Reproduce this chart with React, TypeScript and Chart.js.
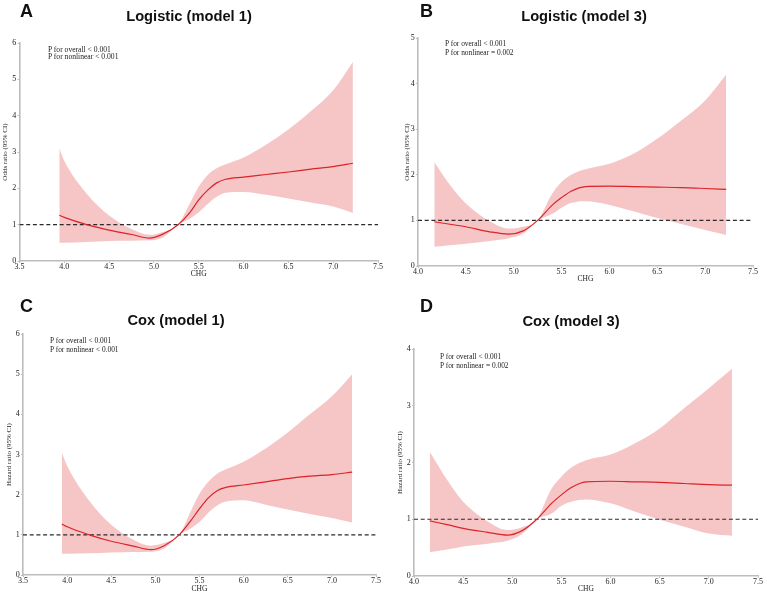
import React, { useEffect, useRef } from "react";
import { Chart, registerables } from "chart.js";
Chart.register(...registerables);

// ---------- Data ----------
// Panel A: Logistic (model 1)
const aX = [3.944, 4.0, 4.25, 4.5, 4.75, 4.95, 5.1, 5.27, 5.4, 5.5, 5.6, 5.7, 5.8, 6.0, 6.25, 6.5, 6.75, 7.0, 7.22];
const aMid = [1.26, 1.2, 1.0, 0.85, 0.73, 0.63, 0.74, 1.0, 1.33, 1.68, 1.95, 2.15, 2.25, 2.31, 2.38, 2.45, 2.53, 2.6, 2.69];
const aUp = [3.1, 2.75, 1.85, 1.25, 0.88, 0.72, 0.8, 1.0, 1.58, 2.05, 2.37, 2.55, 2.66, 2.85, 3.2, 3.62, 4.12, 4.7, 5.48];
const aLo = [0.5, 0.5, 0.52, 0.55, 0.56, 0.57, 0.65, 1.0, 1.16, 1.34, 1.57, 1.77, 1.88, 1.9, 1.82, 1.72, 1.61, 1.5, 1.32];

// Panel B: Logistic (model 3)
const bX = [4.17, 4.35, 4.5, 4.75, 4.95, 5.1, 5.25, 5.4, 5.5, 5.6, 5.75, 6.0, 6.25, 6.5, 6.75, 7.0, 7.22];
const bMid = [0.97, 0.91, 0.86, 0.75, 0.7, 0.77, 1.0, 1.33, 1.5, 1.64, 1.74, 1.75, 1.74, 1.73, 1.72, 1.7, 1.68];
const bUp = [2.28, 1.73, 1.37, 0.98, 0.82, 0.86, 1.0, 1.58, 1.84, 2.0, 2.12, 2.24, 2.46, 2.79, 3.19, 3.63, 4.2];
const bLo = [0.42, 0.46, 0.49, 0.55, 0.61, 0.71, 1.0, 1.14, 1.28, 1.38, 1.42, 1.34, 1.2, 1.05, 0.92, 0.79, 0.68];

// Panel C: Cox (model 1)
const cX = [3.94, 4.0, 4.25, 4.5, 4.75, 4.95, 5.1, 5.27, 5.4, 5.5, 5.6, 5.7, 5.8, 6.0, 6.25, 6.5, 6.75, 7.0, 7.23];
const cMid = [1.27, 1.2, 1.0, 0.84, 0.72, 0.63, 0.73, 1.0, 1.35, 1.65, 1.92, 2.1, 2.18, 2.24, 2.32, 2.4, 2.46, 2.5, 2.56];
const cUp = [3.05, 2.72, 1.85, 1.25, 0.88, 0.73, 0.8, 1.0, 1.58, 2.02, 2.32, 2.52, 2.63, 2.82, 3.15, 3.55, 4.0, 4.45, 5.0];
const cLo = [0.53, 0.53, 0.54, 0.56, 0.57, 0.58, 0.66, 1.0, 1.16, 1.32, 1.55, 1.73, 1.83, 1.86, 1.75, 1.63, 1.52, 1.42, 1.31];

// Panel D: Cox (model 3)
const dX = [4.16, 4.35, 4.5, 4.75, 4.95, 5.1, 5.25, 5.4, 5.5, 5.6, 5.75, 6.0, 6.25, 6.5, 6.75, 7.0, 7.235];
const dMid = [0.97, 0.9, 0.84, 0.77, 0.72, 0.8, 1.0, 1.28, 1.43, 1.56, 1.66, 1.67, 1.66, 1.65, 1.63, 1.61, 1.6];
const dUp = [2.19, 1.66, 1.31, 0.96, 0.81, 0.86, 1.0, 1.54, 1.75, 1.91, 2.04, 2.14, 2.34, 2.6, 2.96, 3.31, 3.65];
const dLo = [0.42, 0.47, 0.52, 0.57, 0.62, 0.74, 1.0, 1.1, 1.24, 1.31, 1.35, 1.28, 1.13, 0.99, 0.87, 0.75, 0.71];

const titles = ["Logistic (model 1)", "Logistic (model 3)", "Cox (model 1)", "Cox (model 3)"];
const letters = ["A", "B", "C", "D"];
const yTitles = ["Odds ratio (95% CI)", "Odds ratio (95% CI)", "Hazard ratio (95% CI)", "Hazard ratio (95% CI)"];
const xTitle = "CHG";
const pOverall = ["P for overall < 0.001", "P for overall < 0.001", "P for overall < 0.001", "P for overall < 0.001"];
const pNonlinear = ["P for nonlinear < 0.001", "P for nonlinear = 0.002", "P for nonlinear < 0.001", "P for nonlinear = 0.002"];
const xMins = [3.5, 4.0, 3.5, 4.0];
const xMaxs = [7.5, 7.5, 7.5, 7.5];
const yMaxs = [6, 5, 6, 4];
const refValue = 1;

const seriesX = [aX, bX, cX, dX];
const seriesMid = [aMid, bMid, cMid, dMid];
const seriesUp = [aUp, bUp, cUp, dUp];
const seriesLo = [aLo, bLo, cLo, dLo];

// ---------- Layout ----------
type Layout = {
  left: number; top: number; w: number; h: number;
  areaTop: number; areaRight: number; yw: number; xh: number;
  xtPad: number; ytPad: number;
  letterX: number; letterY: number; titleX: number; titleY: number;
  pX: number; pY: number; pGap: number; pSize: number;
};

const layouts: Layout[] = [
  { left: 0, top: 0, w: 385, h: 295, areaTop: 43, areaRight: 7, yw: 19.5, xh: 34, xtPad: 16, ytPad: 1.3,
    letterX: 20, letterY: 11, titleX: 189, titleY: 16, pX: 48, pY: 50.7, pGap: 6.7, pSize: 7.6 },
  { left: 385, top: 0, w: 382, h: 295, areaTop: 38, areaRight: 14, yw: 33, xh: 29, xtPad: 11, ytPad: 17.6,
    letterX: 35, letterY: 11, titleX: 199, titleY: 16, pX: 60, pY: 43.3, pGap: 9, pSize: 7.4 },
  { left: 0, top: 295, w: 385, h: 301, areaTop: 39, areaRight: 9, yw: 23, xh: 21, xtPad: 2.5, ytPad: 5.4,
    letterX: 20, letterY: 10.5, titleX: 176, titleY: 25, pX: 50, pY: 45.3, pGap: 9, pSize: 7.4 },
  { left: 385, top: 295, w: 382, h: 301, areaTop: 54, areaRight: 9, yw: 29, xh: 20, xtPad: 2.5, ytPad: 11,
    letterX: 35, letterY: 11, titleX: 186, titleY: 26, pX: 55, pY: 61, pGap: 9, pSize: 7.4 },
];

const serif = "'Liberation Serif', 'Times New Roman', serif";
const sans = "'Liberation Sans', Arial, sans-serif";
const axisColor = "#bdbdbd";
const textColor = "#222222";

function Panel({ i }: { i: number }) {
  const ref = useRef<HTMLCanvasElement>(null);
  const L = layouts[i];
  useEffect(() => {
    const xs = seriesX[i];
    const pts = (ys: number[]) => xs.map((x, k) => ({ x, y: ys[k] }));
    const chart = new Chart(ref.current as HTMLCanvasElement, {
      type: "line",
      data: {
        datasets: [
          {
            data: pts(seriesMid[i]),
            borderColor: "#dc2328",
            borderWidth: 1.2,
            pointRadius: 0,
            fill: false,
            cubicInterpolationMode: "monotone",
            order: 0,
          },
          {
            data: [{ x: xMins[i], y: refValue }, { x: xMaxs[i], y: refValue }],
            borderColor: "#2b2b2b",
            borderWidth: 1.2,
            borderDash: [4, 2.7],
            pointRadius: 0,
            fill: false,
            order: 1,
          },
          {
            data: pts(seriesUp[i]),
            borderColor: "rgba(0,0,0,0)",
            borderWidth: 0,
            backgroundColor: "#f6c5c6",
            pointRadius: 0,
            fill: "+1",
            cubicInterpolationMode: "monotone",
            order: 2,
          },
          {
            data: pts(seriesLo[i]),
            borderColor: "rgba(0,0,0,0)",
            borderWidth: 0,
            pointRadius: 0,
            fill: false,
            cubicInterpolationMode: "monotone",
            order: 3,
          },
        ],
      } as any,
      options: {
        responsive: false,
        animation: false,
        devicePixelRatio: 1,
        layout: { padding: { left: 0, top: L.areaTop, right: L.areaRight, bottom: 0 } },
        plugins: { legend: { display: false }, tooltip: { enabled: false } },
        scales: {
          x: {
            type: "linear",
            min: xMins[i],
            max: xMaxs[i],
            afterFit: (s: any) => { s.height = L.xh; },
            ticks: {
              stepSize: 0.5,
              autoSkip: false,
              maxRotation: 0,
              padding: -1,
              color: textColor,
              font: { family: serif, size: 8 },
              callback: (v: any) => Number(v).toFixed(1),
            },
            grid: { drawOnChartArea: false, tickLength: 2, color: axisColor, lineWidth: 1 },
            border: { color: axisColor, width: 1.6 },
            title: {
              display: true,
              text: xTitle,
              color: textColor,
              font: { family: serif, size: 7.5 },
              padding: { top: 0, bottom: L.xtPad },
            },
          },
          y: {
            type: "linear",
            min: 0,
            max: yMaxs[i],
            afterFit: (s: any) => { s.width = L.yw; },
            ticks: {
              stepSize: 1,
              padding: 1.2,
              color: textColor,
              font: { family: serif, size: 8 },
            },
            grid: { drawOnChartArea: false, tickLength: 2, color: axisColor, lineWidth: 1 },
            border: { color: axisColor, width: 1.6 },
            title: {
              display: true,
              text: yTitles[i],
              color: textColor,
              font: { family: serif, size: 7 },
              padding: { top: L.ytPad, bottom: 0 },
            },
          },
        },
      } as any,
    });
    return () => chart.destroy();
  }, []);

  return (
    <div style={{ position: "absolute", left: L.left, top: L.top, width: L.w, height: L.h }}>
      <canvas ref={ref} width={L.w} height={L.h} style={{ position: "absolute", left: 0, top: 0, width: L.w, height: L.h }} />
      <div style={{ position: "absolute", left: L.letterX, top: L.letterY, transform: "translateY(-50%)", font: `bold 18px ${sans}`, lineHeight: 1, color: "#111", whiteSpace: "nowrap" }}>
        {letters[i]}
      </div>
      <div style={{ position: "absolute", left: L.titleX, top: L.titleY, transform: "translate(-50%,-50%)", font: `bold 14.7px ${sans}`, lineHeight: 1, color: "#111", whiteSpace: "nowrap" }}>
        {titles[i]}
      </div>
      <div style={{ position: "absolute", left: L.pX, top: L.pY - L.pGap / 2, fontFamily: serif, fontSize: L.pSize, lineHeight: `${L.pGap}px`, color: "#222", whiteSpace: "nowrap" }}>
        <div>{pOverall[i]}</div>
        <div>{pNonlinear[i]}</div>
      </div>
    </div>
  );
}

export default function App() {
  return (
    <div style={{ position: "absolute", left: 0, top: 0, width: 767, height: 596, background: "#fff", overflow: "hidden" }}>
      {[0, 1, 2, 3].map((i) => (
        <Panel key={i} i={i} />
      ))}
    </div>
  );
}
